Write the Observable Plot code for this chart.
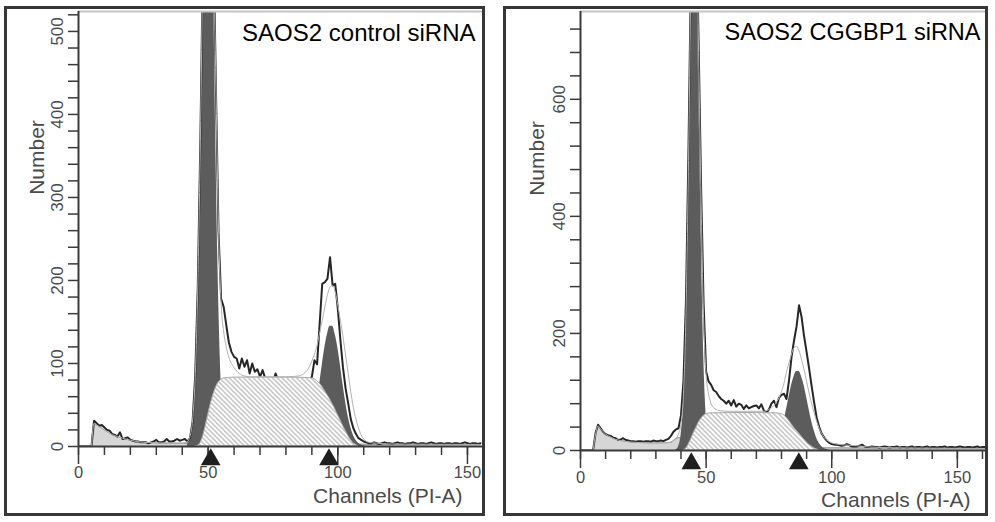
<!DOCTYPE html>
<html><head><meta charset="utf-8">
<script src="https://cdn.jsdelivr.net/npm/d3@7"></script>
<script src="https://cdn.jsdelivr.net/npm/@observablehq/plot@0.6"></script>
<style>
html,body{margin:0;padding:0;background:#fff;}
body{width:995px;height:522px;position:relative;overflow:hidden;font-family:"Liberation Sans",Arial,sans-serif;}
.panel{position:absolute;top:6px;height:504px;border:3px solid #363636;background:#fff;}
#left{left:4px;width:475px;}
#right{left:503px;width:479px;}
</style></head><body>
<div id="left" class="panel"></div><div id="right" class="panel"></div>
<script>
// ---------- LEFT: SAOS2 control siRNA (channel = index) ----------
const leftTitle = "SAOS2 control siRNA";
const leftCounts = [
 0,0,0,0,0,0,
 31,28,25,26,23,20,19,15,14,12,
 17,9,10,11,8,7,6,6,5,5,
 5,4,5,6,8,5,5,6,9,6,
 6,7,9,7,8,9,6,10,30,85,
 192,368,590,785,870,800,620,430,258,178,
 168,146,125,114,108,106,94,106,96,104,
 88,100,90,93,84,92,82,79,79,78,
 88,79,78,79,79,78,79,79,78,79,
 79,79,79,80,84,104,99,148,196,198,
 202,228,194,196,166,128,95,70,52,33,
 22,15,10,8,6,5,4,4,5,4,
 3,4,5,4,4,3,4,5,4,4,
 3,4,4,5,4,3,4,4,3,4,
 5,4,3,4,4,3,4,4,3,4,
 4,3,4,5,4,3,4,4,3,4
];
const leftDebrisCh = [5,6,7,8,9,10,12,14,16,18,20,23,26,30,35,40,45,50,60,80,100,120,140,155];
const leftDebris   = [0,28,26,24,22,20,16,13,11,9,7.5,6,5,4.5,4,4,3.5,3.5,3.5,3,3,2.5,2.5,2.5];
const leftG1Ch = [42,43,44,45,46,47,48,49,50,51,52,53,54,55,56,57,58];
const leftG1   = [2,8,28,79,186,359,576,764,840,764,576,359,186,79,28,8,2];
const leftG2Ch = [85,86,87,88,89,90,91,92,93,94,95,96,97,98,99,100,101,102,103,104,105,106,107,108,109,110,111];
const leftG2   = [0.9,1.9,3.9,7.5,13.5,23,36,54,75,98,119,135,145,145,135,119,98,75,54,36,23,13.5,7.5,3.9,1.9,0.9,0];
const leftSCh = [45,46,47,48,49,50,51,52,53,54,55,56,58,60,70,80,88,90,91,92,93,94,95,96,97,98,99,100,101,102,103,104,105,106,107,108];
const leftS   = [0,1,4,12,24,38,51,62,71,77,80,82,82.5,83,83,83,82.5,82,81,79,76,72,67,62,57,51,45,38,32,25,19,13,8,4,2,0];
const leftFitCh = [5,6,7,8,10,12,14,16,18,20,25,30,40,42,43,44,45,46,47,48,49,50,51,52,53,54,55,56,57,58,59,60,61,62,63,64,66,70,80,85,86,87,88,89,90,91,92,93,94,95,96,97,98,99,100,101,102,103,104,105,106,107,108,109,110,112,115,120,155];
const leftFit   = [0,28,26,24,20,16,13,11,9,7.5,5,4.5,4,6,12,32,83,191,367,592,788,875,800,610,435,262,172,138,120,107,100,95,91,88,86,85,84,84,84,85,86,88,91,96,103,111,122,137,152,168,183,192,194,186,170,152,132,110,88,66,47,33,22,14,9,5,4,3,2.5];
const leftMarkers = [51, 96.6];
const leftXMajor = [0,50,100,150];
const leftXMinor = [0,10,20,30,40,50,60,70,80,90,100,110,120,130,140,150];
const leftYLabels = [0,100,200,300,400,500];
const leftYTicks = [0,20,40,60,80,100,120,140,160,180,200,220,240,260,280,300,320,340,360,380,400,420,440,460,480,500,520];

// ---------- RIGHT: SAOS2 CGGBP1 siRNA ----------
const rightTitle = "SAOS2 CGGBP1 siRNA";
const rightCounts = [
 0,0,0,0,0,0,
 30,44,38,32,28,26,25,22,21,18,
 19,21,18,17,16,16,15,16,16,15,
 16,16,15,17,16,16,17,16,18,20,
 25,32,36,38,60,120,260,520,830,1010,
 930,700,450,250,135,118,112,103,100,93,
 88,85,80,85,77,86,75,80,78,71,
 77,72,74,76,77,72,79,68,65,70,
 80,85,74,90,95,97,88,120,160,188,
 212,248,228,195,168,140,110,82,56,40,
 29,22,17,13,11,10,10,9,8,9,
 11,9,7,7,7,8,10,7,6,6,
 7,6,6,5,6,7,6,5,6,6,
 7,5,6,6,5,6,7,5,6,6,
 5,6,7,5,6,6,5,6,6,7,
 5,6,6,5,6,7,6,5,6,6,
 5,6,7,5,6,6
];
const rightDebrisCh = [5,6,7,8,9,10,11,12,13,14,16,18,20,24,28,32,35,36,37,38,39,40,41,42,44,50,60,80,100,120,140,161];
const rightDebris   = [0,28,42,37,32,28,25,23,21,19,17,15.5,14.5,13.5,13,13,13.5,14,17,20,22,20,15,12,10,8,6,5,4.5,4,3.5,3];
const rightG1Ch = [37,38,39,40,41,42,43,44,45,46,47,48,49,50,51,52,53];
const rightG1   = [0,1,6,25,80,220,480,800,990,900,640,380,170,60,18,5,1];
const rightG2Ch = [74,75,76,77,78,79,80,81,82,83,84,85,86,87,88,89,90,91,92,93,94,95,96,97,98,99];
const rightG2   = [0.8,1.8,3.6,7,12.6,21,34,50,70,91,111,126,135,135,126,111,91,70,50,34,21,12.6,7,3.6,1.8,0.8];
const rightSCh = [41,42,43,44,45,46,47,48,49,50,51,52,60,70,78,79,80,81,82,83,84,85,86,87,88,89,90,91,92,93,94,95];
const rightS   = [0,3,10,19,29,38,47,54,59,62,63,63.5,64,64,63.5,63,62,60,56,51,45,39,34,29,24,19,14,10,7,4,2,0];
const rightFitCh = [5,6,7,8,10,12,14,16,20,28,35,37,38,39,40,41,42,43,44,45,46,47,48,49,50,51,52,53,54,55,60,70,73,74,75,76,77,78,79,80,81,82,83,84,85,86,87,88,89,90,91,92,93,94,95,96,97,98,99,100,102,105,110,115,120,140,161];
const rightFit   = [0,28,42,37,28,23,19,17,14.5,13,13.5,17,21,28,46,98,236,495,815,1012,930,680,425,225,130,96,80,73,70,68,67,67,67,68,70,73,77,83,90,101,115,135,150,165,176,178,170,155,138,118,98,80,64,50,38,29,22,18,15,13,11,9.5,8,6,5,4,3.5];
const rightMarkers = [44.1, 86.9];
const rightXMajor = [0,50,100,150];
const rightXMinor = [0,10,20,30,40,50,60,70,80,90,100,110,120,130,140,150,160];
const rightYLabels = [0,200,400,600];
const rightYTicks = [0,40,80,120,160,200,240,280,320,360,400,440,480,520,560,600,640,680,720];

const xLabel = "Channels (PI-A)";
const yLabel = "Number";

function pts(xs, ys) { return xs.map((x, i) => ({x, y: ys[i]})); }

function drawPanel(el, c) {
  const axisColor = "#3a3a3a";
  const textColor = "#4a4a4a";
  const svg = Plot.plot({
    width: c.width, height: 504,
    marginLeft: c.ml, marginRight: 0, marginTop: 2, marginBottom: c.mb,
    x: {domain: [0, c.xMax]},
    y: {domain: [0, c.yMax]},
    style: {fontFamily: '"Liberation Sans", Arial, sans-serif', background: "transparent", overflow: "visible"},
    marks: [
      Plot.areaY(pts(c.debrisCh, c.debris), {x: "x", y: "y", fill: "#d6d6d6", curve: "monotone-x", clip: true}),
      Plot.lineY(pts(c.debrisCh, c.debris), {x: "x", y: "y", stroke: "#8e8e8e", strokeWidth: 1, curve: "monotone-x", clip: true}),
      Plot.areaY(pts(c.g1Ch, c.g1), {x: "x", y: "y", fill: "#5c5c5c", curve: "monotone-x", clip: true}),
      Plot.areaY(pts(c.g2Ch, c.g2), {x: "x", y: "y", fill: "#5c5c5c", curve: "monotone-x", clip: true}),
      Plot.lineY(c.counts, {x: (d, i) => i, y: d => d, stroke: "#262626", strokeWidth: 2, strokeLinejoin: "round", clip: true}),
      Plot.areaY(pts(c.sCh, c.s), {x: "x", y: "y", fill: `url(#${c.id}-hatch)`, stroke: "#a9a9a9", strokeWidth: 1, curve: "monotone-x", clip: true}),
      Plot.lineY(pts(c.fitCh, c.fit), {x: "x", y: "y", stroke: "#b2b2b2", strokeWidth: 1, curve: "monotone-x", clip: true}),
      Plot.ruleY([c.yMax], {stroke: "#c4c4c4", strokeWidth: 2}),
      Plot.axisY({ticks: c.yTicks, tickSize: 10, fill: "none", stroke: axisColor, strokeWidth: 1.5, label: null}),
      Plot.axisY({ticks: c.yLabels, tickSize: 0, tickPadding: 16, tickRotate: -90, fontSize: 17, fill: textColor, label: null}),
      Plot.axisX({ticks: c.xMinor, tickSize: 9, fill: "none", stroke: axisColor, strokeWidth: 1.5, label: null}),
      Plot.axisX({ticks: c.xMajor, tickSize: 18, tickPadding: c.xPad, fontSize: 16.5, fill: textColor, stroke: axisColor, strokeWidth: 1.5, label: null}),
      Plot.ruleX([0], {stroke: axisColor, strokeWidth: 2}),
      Plot.ruleY([0], {stroke: axisColor, strokeWidth: 2}),
      Plot.dot(c.markers, {x: d => d, frameAnchor: "bottom", dy: 13, symbol: "triangle", r: 7.3, fill: "#1e1e1e", stroke: "none"}),
      Plot.text([c.title], {text: d => d, frameAnchor: "top-right", dx: c.titleDx, dy: 12, fontSize: c.titleSize, fill: "#000", textAnchor: "end", lineAnchor: "top"}),
      Plot.text([yLabel], {text: d => d, frameAnchor: "top-left", dx: c.yLabDx, dy: c.yLabDy, rotate: -90, fontSize: 21, fill: textColor, textAnchor: "middle", lineAnchor: "bottom"}),
      Plot.text([xLabel], {text: d => d, frameAnchor: "bottom-right", dx: c.xLabDx, dy: c.xLabDy, fontSize: 21, fill: textColor, textAnchor: "end", lineAnchor: "bottom"})
    ]
  });
  const defs = document.createElementNS("http://www.w3.org/2000/svg", "defs");
  defs.innerHTML = `<pattern id="${c.id}-hatch" patternUnits="userSpaceOnUse" width="3.4" height="3.4" patternTransform="rotate(-45)"><rect width="3.4" height="3.4" fill="#fff"/><line x1="1.7" y1="-1" x2="1.7" y2="4.4" stroke="#9c9c9c" stroke-width="0.9"/></pattern>`;
  svg.insertBefore(defs, svg.firstChild);
  el.appendChild(svg);
}

drawPanel(document.getElementById("left"), {
  id: "L", width: 475, ml: 71, mb: 67, xMax: 155.8, yMax: 524, xPad: 2,
  counts: leftCounts, debrisCh: leftDebrisCh, debris: leftDebris,
  g1Ch: leftG1Ch, g1: leftG1, g2Ch: leftG2Ch, g2: leftG2, sCh: leftSCh, s: leftS,
  fitCh: leftFitCh, fit: leftFit, markers: leftMarkers,
  xMajor: leftXMajor, xMinor: leftXMinor, yLabels: leftYLabels, yTicks: leftYTicks,
  title: leftTitle, titleDx: -7, titleSize: 24,
  yLabDx: -35, yLabDy: 146, xLabDx: -20, xLabDy: 56
});
drawPanel(document.getElementById("right"), {
  id: "R", width: 479, ml: 74, mb: 63, xMax: 161.2, yMax: 750, xPad: 3,
  counts: rightCounts, debrisCh: rightDebrisCh, debris: rightDebris,
  g1Ch: rightG1Ch, g1: rightG1, g2Ch: rightG2Ch, g2: rightG2, sCh: rightSCh, s: rightS,
  fitCh: rightFitCh, fit: rightFit, markers: rightMarkers,
  xMajor: rightXMajor, xMinor: rightXMinor, yLabels: rightYLabels, yTicks: rightYTicks,
  title: rightTitle, titleDx: -5, titleSize: 23.5,
  yLabDx: -37, yLabDy: 147, xLabDx: -15, xLabDy: 56
});
</script></body></html>
